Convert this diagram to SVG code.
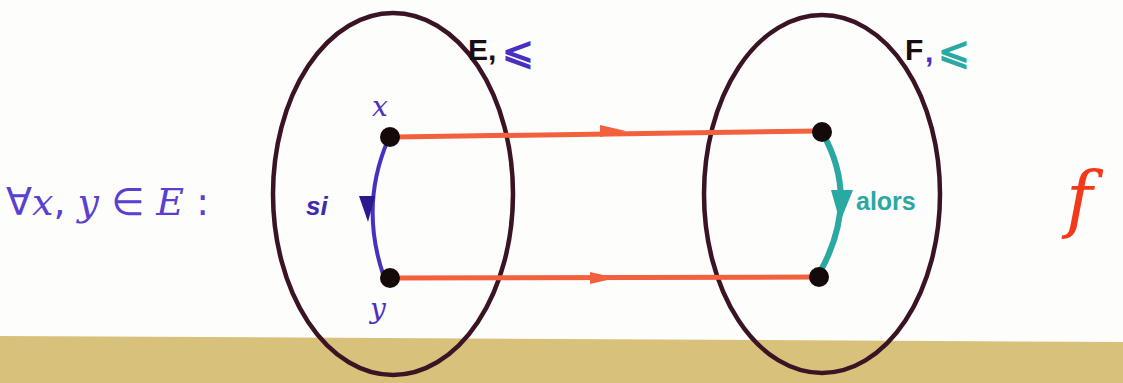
<svg xmlns="http://www.w3.org/2000/svg" width="1123" height="383" viewBox="0 0 1123 383">
<style>
.set{fill:none;stroke:#3a1424;stroke-width:4.5}
.map{fill:none;stroke:#f2603e;stroke-width:5;stroke-linecap:round}
.dot{fill:#140a0a}
.blue{fill:#4a30c0;font-family:"DejaVu Serif",serif;font-style:italic}
.lbl{font-family:"Liberation Sans",sans-serif;font-weight:bold}
</style>
<rect width="1123" height="383" fill="#fdfdfb"/>
<polygon points="0,336 1123,342 1123,383 0,383" fill="#d8c17a"/>
<g id="setE">
<ellipse class="set" cx="393" cy="194" rx="120" ry="181"/>
<text x="468" y="60" class="lbl" font-size="30" fill="#1a0c10">E,</text>
<text x="502" y="64" class="lbl" font-size="38" fill="#4a30c0">⩽</text>
</g>
<g id="setF">
<ellipse class="set" cx="822" cy="194" rx="118" ry="179"/>
<text x="905" y="60" class="lbl" font-size="30" fill="#1a0c10">F</text>
<text x="925" y="62" class="lbl" font-size="30" fill="#4a30c0">,</text>
<text x="938" y="64" class="lbl" font-size="38" fill="#2aa8a2">⩽</text>
</g>
<g id="connectors">
<path class="map" d="M395,137 L818,131"/>
<path d="M600,125 L626,131 L600,137 Z" fill="#f2603e"/>
<path class="map" d="M395,278 L818,277"/>
<path d="M590,272 L616,278 L590,284 Z" fill="#f2603e"/>
<path d="M388,140 Q360,205 383,274" fill="none" stroke="#4a30c0" stroke-width="4"/>
<path d="M359,196 L375,196 L368,222 Z" fill="#2a1a90"/>
<path d="M823,134 Q860,200 820,272" fill="none" stroke="#2aa8a2" stroke-width="6"/>
<path d="M831,190 L853,190 L840,222 Z" fill="#2aa8a2"/>
</g>
<g id="x">
<circle class="dot" cx="390" cy="137" r="10"/>
<text x="372" y="116" class="blue" font-size="28">x</text>
</g>
<g id="y">
<circle class="dot" cx="390" cy="278" r="10"/>
<text x="370" y="318" class="blue" font-size="28">y</text>
</g>
<g id="fx">
<circle class="dot" cx="822" cy="132" r="10"/>
</g>
<g id="fy">
<circle class="dot" cx="819" cy="277" r="10"/>
</g>
<text x="306" y="215" class="lbl" font-size="26" fill="#3e2ab0" font-style="italic">si</text>
<text x="856" y="210" class="lbl" font-size="25" fill="#2aa8a2">alors</text>
<text x="6" y="215" font-family="DejaVu Sans,sans-serif" font-size="38" fill="#5a40d0">∀<tspan font-style="italic" font-family="DejaVu Serif,serif">x</tspan>, <tspan font-style="italic" font-family="DejaVu Serif,serif">y</tspan> ∈ <tspan font-style="italic" font-family="DejaVu Serif,serif">E</tspan> :</text>
<text x="1066" y="224" font-family="DejaVu Serif,serif" font-style="italic" font-size="72" fill="#f23a1a">f</text>
</svg>
